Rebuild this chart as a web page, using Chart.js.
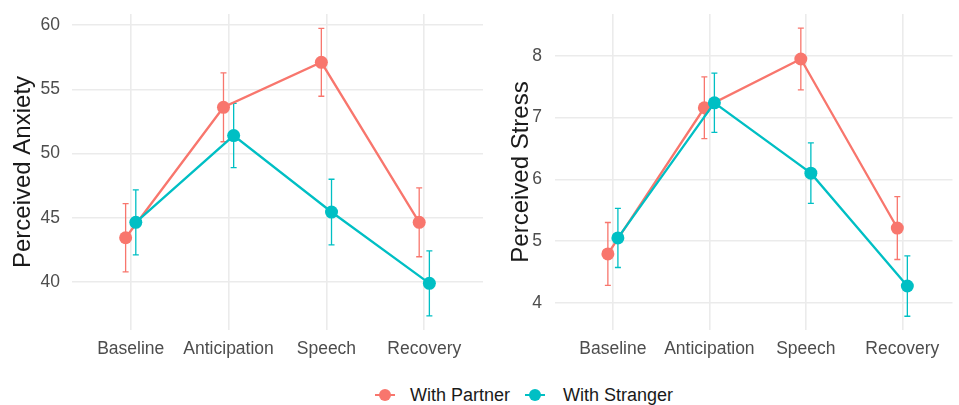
<!DOCTYPE html>
<html>
<head>
<meta charset="utf-8">
<script src="https://cdn.jsdelivr.net/npm/chart.js@4.4.1/dist/chart.umd.min.js"></script>
<style>
  html, body { margin: 0; padding: 0; background: #ffffff; }
  body { width: 959px; height: 405px; position: relative; overflow: hidden;
         font-family: "Liberation Sans", Arial, sans-serif; }
  #leftBox  { position: absolute; left: 0;    top: 0; width: 490px; height: 370px; }
  #rightBox { position: absolute; left: 490px; top: 0; width: 469px; height: 370px; }
  .legend-key { position: absolute; top: 386px; width: 20px; height: 18px; }
  .legend-key .ln { position: absolute; left: 0; top: 8px; width: 20px; height: 2px; }
  .legend-key .dot { position: absolute; left: 4px; top: 3px; width: 12px; height: 12px; border-radius: 50%; }
  .legend-text { position: absolute; top: 384px; font-size: 18px; color: #1a1a1a; line-height: 22px; white-space: nowrap; }
</style>
</head>
<body>
<div id="leftBox"><canvas id="anxiety" width="490" height="370"></canvas></div>
<div id="rightBox"><canvas id="stress" width="469" height="370"></canvas></div>

<div class="legend-key" style="left:375px"><div class="ln" style="background:#F8766D"></div><div class="dot" style="background:#F8766D"></div></div>
<div class="legend-text" style="left:410px">With Partner</div>
<div class="legend-key" style="left:525px"><div class="ln" style="background:#00BFC4"></div><div class="dot" style="background:#00BFC4"></div></div>
<div class="legend-text" style="left:563px">With Stranger</div>

<script>
// Study phases (x categories)
const phases = ['Baseline', 'Anticipation', 'Speech', 'Recovery'];
const groups = ['With Partner', 'With Stranger'];
const groupColors = ['#F8766D', '#00BFC4'];

// Perceived anxiety: means and error half-widths
const anxietyPartner    = [43.45, 53.6, 57.1, 44.65];
const anxietyPartnerErr = [2.65, 2.68, 2.64, 2.68];
const anxietyStranger    = [44.65, 51.4, 45.45, 39.9];
const anxietyStrangerErr = [2.53, 2.5, 2.55, 2.53];
const anxietyTicks = [40, 45, 50, 55, 60];

// Perceived stress: means and error half-widths
const stressPartner    = [4.79, 7.16, 7.95, 5.21];
const stressPartnerErr = [0.51, 0.5, 0.5, 0.51];
const stressStranger    = [5.05, 7.24, 6.1, 4.27];
const stressStrangerErr = [0.48, 0.48, 0.49, 0.49];
const stressTicks = [4, 5, 6, 7, 8];

// horizontal dodge between the two groups (in category units)
const dodge = [-0.052, 0.052];

function points(values, errs, g) {
  return values.map((v, i) => ({ x: i + 1 + dodge[g], y: v, err: errs[i] }));
}

// draws vertical error bars with small caps, using the chart's own scales
const errorBars = {
  id: 'errorBars',
  beforeDatasetsDraw(chart) {
    const ctx = chart.ctx;
    const xs = chart.scales.x, ys = chart.scales.y;
    chart.data.datasets.forEach(ds => {
      ctx.save();
      ctx.strokeStyle = ds.borderColor;
      ctx.lineWidth = 1.3;
      ds.data.forEach(p => {
        const x = xs.getPixelForValue(p.x);
        const y1 = ys.getPixelForValue(p.y - p.err);
        const y2 = ys.getPixelForValue(p.y + p.err);
        ctx.beginPath();
        ctx.moveTo(x, y1); ctx.lineTo(x, y2);
        ctx.moveTo(x - 3, y1); ctx.lineTo(x + 3, y1);
        ctx.moveTo(x - 3, y2); ctx.lineTo(x + 3, y2);
        ctx.stroke();
      });
      ctx.restore();
    });
  }
};

const tickFont = { family: '"Liberation Sans", Arial, sans-serif', size: 17.5 };

function makeChart(id, title, partner, partnerErr, stranger, strangerErr, ticks, yMin, yMax, xMax, axisWidth, padRight, titlePad, tickPad) {
  const series = [[partner, partnerErr], [stranger, strangerErr]];
  return new Chart(document.getElementById(id), {
    type: 'line',
    data: {
      datasets: series.map((s, g) => ({
        label: groups[g],
        data: points(s[0], s[1], g),
        borderColor: groupColors[g],
        backgroundColor: groupColors[g],
        borderWidth: 2.3,
        pointRadius: 6.5,
        pointHoverRadius: 6.5,
        pointBorderWidth: 0,
        tension: 0,
        order: 1 - g
      }))
    },
    options: {
      responsive: false,
      animation: false,
      devicePixelRatio: 1,
      layout: { padding: { top: 14, right: padRight, left: 0, bottom: 0 } },
      plugins: { legend: { display: false }, tooltip: { enabled: false } },
      scales: {
        x: {
          type: 'linear',
          min: 0.4,
          max: xMax,
          afterBuildTicks(scale) { scale.ticks = phases.map((_, i) => ({ value: i + 1 })); },
          afterFit(scale) { scale.height = 40; scale.paddingLeft = 0; scale.paddingRight = 0; },
          ticks: {
            callback: v => phases[v - 1],
            color: '#4D4D4D',
            font: tickFont,
            padding: 9,
            maxRotation: 0,
            autoSkip: false
          },
          grid: { color: '#EBEBEB', lineWidth: 1.6, drawTicks: false },
          border: { display: false }
        },
        y: {
          min: yMin,
          max: yMax,
          afterBuildTicks(scale) { scale.ticks = ticks.map(v => ({ value: v })); },
          afterFit(scale) { scale.width = axisWidth; scale.paddingTop = 0; scale.paddingBottom = 0; },
          ticks: {
            color: '#4D4D4D',
            font: tickFont,
            padding: tickPad
          },
          grid: { color: '#EBEBEB', lineWidth: 1.6, drawTicks: false },
          border: { display: false },
          title: {
            display: true,
            text: title,
            color: '#1a1a1a',
            font: { family: '"Liberation Sans", Arial, sans-serif', size: 24 },
            padding: { top: titlePad, bottom: 0 }
          }
        }
      }
    },
    plugins: [errorBars]
  });
}

makeChart('anxiety', 'Perceived Anxiety',
  anxietyPartner, anxietyPartnerErr, anxietyStranger, anxietyStrangerErr,
  anxietyTicks, 36.27, 60.86, 4.6, 72, 7, 9, 12);

makeChart('stress', 'Perceived Stress',
  stressPartner, stressPartnerErr, stressStranger, stressStrangerErr,
  stressTicks, 3.557, 8.68, 4.52, 65, 0, 16.5, 13);
</script>
</body>
</html>
